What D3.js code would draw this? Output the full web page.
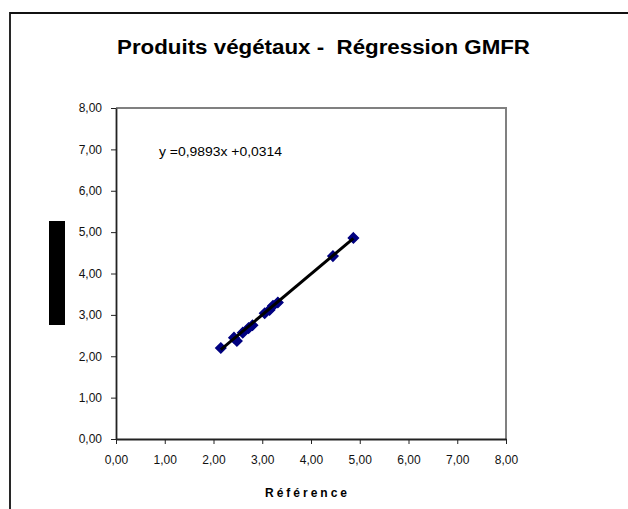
<!DOCTYPE html>
<html><head><meta charset="utf-8">
<script src="https://cdn.jsdelivr.net/npm/d3@7"></script>
<style>body{margin:0;background:#fff}svg{display:block;font-family:"Liberation Sans",Arial,sans-serif}</style>
</head><body><svg id="c" width="628" height="509"></svg>
<script>
const refX = [2.15, 2.42, 2.48, 2.60, 2.72, 2.80, 3.05, 3.15, 3.22, 3.32, 4.45, 4.87];
const refY = [2.20, 2.45, 2.37, 2.57, 2.68, 2.75, 3.04, 3.12, 3.22, 3.30, 4.42, 4.86];
const slope = 0.9893, intercept = 0.0314;
const ticks = [0,1,2,3,4,5,6,7,8];
const title = "Produits végétaux -  Régression GMFR";
const xTitle = "Référence";
const eqLabel = "y =0,9893x +0,0314";

const svg = d3.select("#c");
const x = d3.scaleLinear().domain([0,8]).range([116,506]);
const y = d3.scaleLinear().domain([0,8]).range([439,108]);
const fmt = d => d.toFixed(2).replace(".", ",");

// outer border (left & top)
svg.append("path").attr("d","M10,509 V13 H628").attr("fill","none").attr("stroke","#111").attr("stroke-width",1.8);

// plot area border top/right
svg.append("path").attr("d",`M${x(0)},${y(8)} H${x(8)} V${y(0)}`).attr("fill","none").attr("stroke","#808080").attr("stroke-width",2);

const xa = svg.append("g").attr("transform",`translate(0,${y(0)})`)
  .call(d3.axisBottom(x).tickValues(ticks).tickFormat(fmt).tickSize(5).tickPadding(11).tickSizeOuter(0));
const ya = svg.append("g").attr("transform",`translate(${x(0)},0)`)
  .call(d3.axisLeft(y).tickValues(ticks).tickFormat(fmt).tickSize(5).tickPadding(9).tickSizeOuter(0));
[xa,ya].forEach(g=>{
  g.selectAll("path").attr("stroke","#222").attr("stroke-width",1.8);
  g.selectAll("line").attr("stroke","#222");
  g.selectAll("text").attr("font-size",12).attr("fill","#111").attr("font-family","Liberation Sans, Arial, sans-serif");
});

// markers
svg.append("g").selectAll("path").data(refX.map((v,i)=>[v,refY[i]])).join("path")
  .attr("d", d3.symbol().type(d3.symbolDiamond2).size(64))
  .attr("transform", d=>`translate(${x(d[0])},${y(d[1])})`)
  .attr("fill","#000080").attr("stroke","#000080").attr("stroke-width",1.5);

// regression line (on top of markers)
const x0 = d3.min(refX), x1 = d3.max(refX);
svg.append("line").attr("x1",x(x0)).attr("y1",y(slope*x0+intercept))
  .attr("x2",x(x1)).attr("y2",y(slope*x1+intercept)).attr("stroke","#000").attr("stroke-width",3);

// equation
svg.append("text").attr("x",159).attr("y",156).attr("font-size",12)
  .attr("textLength",123).attr("lengthAdjust","spacingAndGlyphs").text(eqLabel);

// title
svg.append("text").attr("x",117).attr("y",54)
  .attr("font-size",20).attr("font-weight","bold").style("white-space","pre")
  .attr("textLength",413).attr("lengthAdjust","spacingAndGlyphs").text(title);

// x title
svg.append("text").attr("x",265).attr("y",497)
  .attr("font-size",12).attr("font-weight","bold")
  .attr("textLength",82).attr("lengthAdjust","spacing").text(xTitle);

// redacted y title block
svg.append("rect").attr("x",49).attr("y",221).attr("width",16).attr("height",104).attr("fill","#000");
</script></body></html>
